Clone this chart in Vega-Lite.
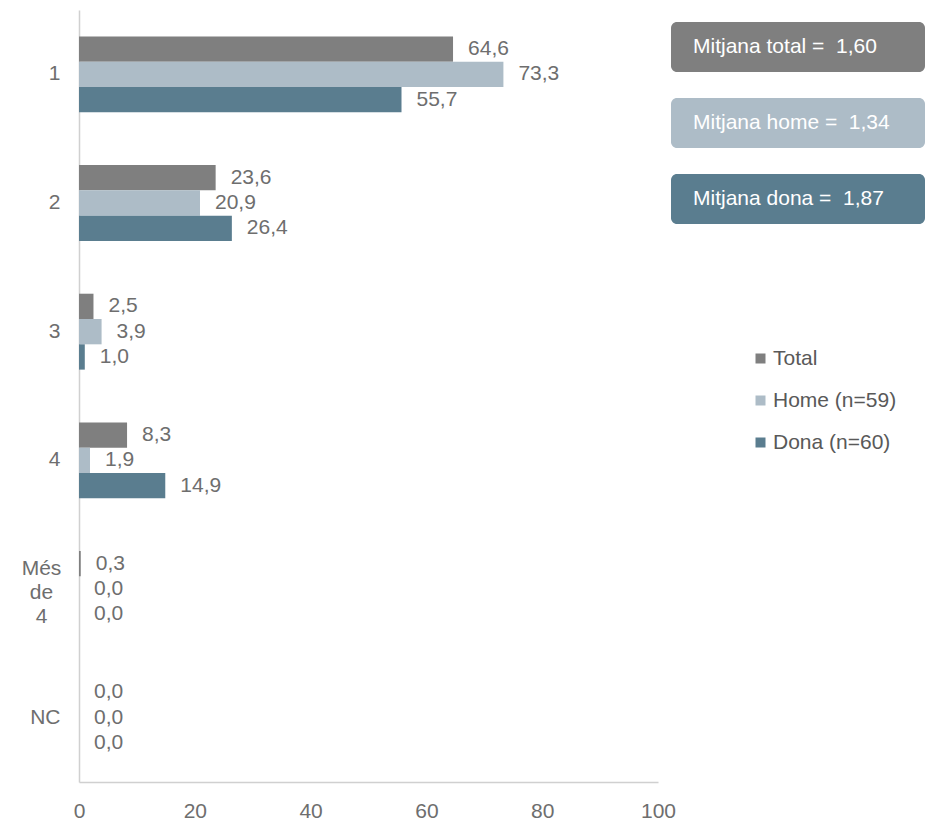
{
  "$schema": "https://vega.github.io/schema/vega-lite/v6.json",
  "padding": {"left": 0, "top": 10, "right": 0, "bottom": 0},
  "background": "white",
  "spacing": 13,
  "bounds": "flush",
  "config": {
    "font": "Liberation Sans",
    "view": {"stroke": null},
    "locale": {"number": {"decimal": ",", "thousands": ".", "grouping": [3], "currency": ["", " €"]}}
  },
  "datasets": {
    "barres": [
      {"cat": "1", "serie": "Total", "value": 64.6},
      {"cat": "1", "serie": "Home (n=59)", "value": 73.3},
      {"cat": "1", "serie": "Dona (n=60)", "value": 55.7},
      {"cat": "2", "serie": "Total", "value": 23.6},
      {"cat": "2", "serie": "Home (n=59)", "value": 20.9},
      {"cat": "2", "serie": "Dona (n=60)", "value": 26.4},
      {"cat": "3", "serie": "Total", "value": 2.5},
      {"cat": "3", "serie": "Home (n=59)", "value": 3.9},
      {"cat": "3", "serie": "Dona (n=60)", "value": 1.0},
      {"cat": "4", "serie": "Total", "value": 8.3},
      {"cat": "4", "serie": "Home (n=59)", "value": 1.9},
      {"cat": "4", "serie": "Dona (n=60)", "value": 14.9},
      {"cat": "Més de 4", "serie": "Total", "value": 0.3},
      {"cat": "Més de 4", "serie": "Home (n=59)", "value": 0.0},
      {"cat": "Més de 4", "serie": "Dona (n=60)", "value": 0.0},
      {"cat": "NC", "serie": "Total", "value": 0.0},
      {"cat": "NC", "serie": "Home (n=59)", "value": 0.0},
      {"cat": "NC", "serie": "Dona (n=60)", "value": 0.0}
    ],
    "mitjanes": [
      {"serie": "Total", "text": "Mitjana total = \u00a01,60", "mitjana": 1.60},
      {"serie": "Home (n=59)", "text": "Mitjana home = \u00a01,34", "mitjana": 1.34},
      {"serie": "Dona (n=60)", "text": "Mitjana dona = \u00a01,87", "mitjana": 1.87}
    ]
  },
  "hconcat": [
    {
      "width": 579,
      "height": 772,
      "data": {"name": "barres"},
      "encoding": {
        "y": {
          "field": "cat", "type": "nominal",
          "sort": ["1", "2", "3", "4", "Més de 4", "NC"],
          "scale": {"paddingInner": 0.41, "paddingOuter": 0.205},
          "axis": {
            "title": null, "ticks": false, "tickSize": 0,
            "domainColor": "#d0d0d0", "domainWidth": 1.5,
            "labelFontSize": 21, "labelColor": "#6e6e6e",
            "labelPadding": {"condition": {"test": "datum.value == 'Més de 4'", "value": 38}, "value": 19},
            "labelAlign": {"condition": {"test": "datum.value == 'Més de 4'", "value": "center"}, "value": "right"},
            "labelOffset": {"condition": {"test": "datum.value == 'Més de 4'", "value": -20}, "value": 0},
            "labelLineHeight": 24,
            "labelExpr": "datum.value == 'Més de 4' ? ['Més', 'de', '4'] : datum.label",
            "minExtent": 79, "maxExtent": 79
          }
        },
        "yOffset": {
          "field": "serie", "type": "nominal",
          "sort": ["Total", "Home (n=59)", "Dona (n=60)"],
          "scale": {"paddingInner": 0, "paddingOuter": 0}
        },
        "x": {
          "field": "value", "type": "quantitative",
          "scale": {"domain": [0, 100]},
          "axis": {
            "title": null, "ticks": false, "tickSize": 0, "grid": false,
            "values": [0, 20, 40, 60, 80, 100], "format": "d", "labelFlush": false,
            "domainColor": "#d0d0d0", "domainWidth": 1.5,
            "labelFontSize": 21, "labelColor": "#6e6e6e", "labelPadding": 18
          }
        }
      },
      "layer": [
        {
          "mark": {"type": "bar"},
          "encoding": {
            "color": {
              "field": "serie", "type": "nominal",
              "scale": {"domain": ["Total", "Home (n=59)", "Dona (n=60)"], "range": ["#7f7f7f", "#adbcc7", "#5a7d8f"]},
              "legend": {
                "orient": "none", "legendX": 671, "legendY": 338,
                "title": null, "symbolType": "square", "symbolSize": 100,
                "symbolStrokeWidth": 0, "labelFontSize": 21, "labelColor": "#595959",
                "rowPadding": 20, "labelOffset": 2, "padding": 0
              }
            }
          }
        },
        {
          "mark": {"type": "text", "align": "left", "baseline": "middle", "dx": 15, "fontSize": 21, "color": "#6e6e6e"},
          "encoding": {"text": {"field": "value", "type": "quantitative", "format": ".1f"}}
        }
      ]
    },
    {
      "width": 254,
      "height": 226,
      "data": {"name": "mitjanes"},
      "encoding": {
        "y": {
          "field": "serie", "type": "nominal",
          "sort": ["Total", "Home (n=59)", "Dona (n=60)"],
          "scale": {"paddingInner": 0.342, "paddingOuter": 0.158},
          "axis": null
        },
        "x": {"datum": 0, "type": "quantitative", "scale": {"domain": [0, 1]}, "axis": null}
      },
      "layer": [
        {
          "mark": {"type": "rect", "cornerRadius": 6},
          "encoding": {
            "x2": {"datum": 1},
            "color": {"field": "serie", "type": "nominal"}
          }
        },
        {
          "mark": {"type": "text", "align": "left", "baseline": "middle", "dx": 22, "fontSize": 21, "color": "white"},
          "encoding": {"text": {"field": "text", "type": "nominal"}}
        }
      ]
    }
  ]
}
